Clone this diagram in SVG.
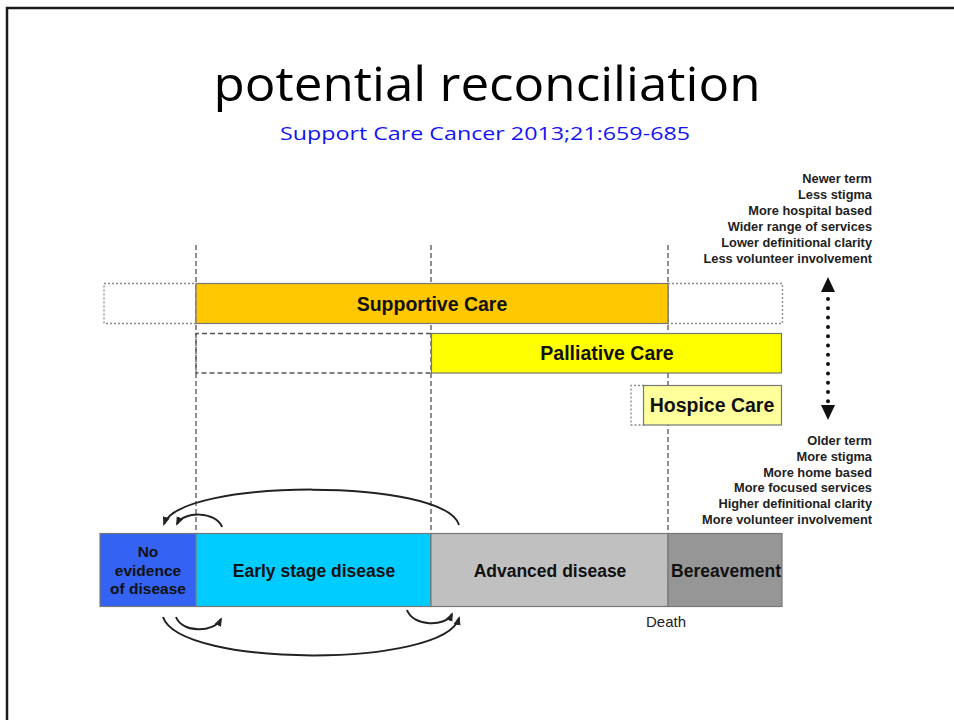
<svg xmlns="http://www.w3.org/2000/svg" width="954" height="720" viewBox="0 0 954 720">
  <defs>
    <style>
      .title { font-family: "Open Sans", "Liberation Sans", sans-serif; fill: #000; }
      .lbl { font-family: "Liberation Sans", Arial, sans-serif; font-weight: bold; fill: #111; text-anchor: middle; }
      .side { font-family: "Liberation Sans", Arial, sans-serif; font-weight: bold; font-size: 12.8px; fill: #222; text-anchor: end; }
      .guide { stroke: #555; stroke-width: 1.3; stroke-dasharray: 5 3; fill: none; }
      .ghost { stroke: #8a8a8a; stroke-width: 1.3; stroke-dasharray: 2 2; fill: none; }
      .bar { stroke: #777; stroke-width: 1.2; }
      .arc { stroke: #222; stroke-width: 2; fill: none; }
    </style>
    <marker id="tip" markerUnits="userSpaceOnUse" markerWidth="10" markerHeight="8" refX="7" refY="4" orient="auto">
      <path d="M0,0.5 L9,4 L0,7.5 z" fill="#222"/>
    </marker>
  </defs>

  <rect width="954" height="720" fill="#fff"/>
  <!-- slide frame -->
  <path d="M7,720 V8 H954" fill="none" stroke="#1a1a1a" stroke-width="2.5"/>

  <!-- heading -->
  <text class="title" x="487" y="101" font-size="48" text-anchor="middle" textLength="547" lengthAdjust="spacingAndGlyphs">potential reconciliation</text>
  <text x="485" y="140" font-family="'Open Sans', 'Liberation Sans', sans-serif" font-size="19" fill="#1414f0" text-anchor="middle" textLength="410" lengthAdjust="spacingAndGlyphs">Support Care Cancer 2013;21:659-685</text>

  <!-- phase guides -->
  <g id="guides">
    <line class="guide" x1="196" y1="245" x2="196" y2="533"/>
    <line class="guide" x1="431" y1="245" x2="431" y2="533"/>
    <line class="guide" x1="668" y1="245" x2="668" y2="533"/>
  </g>

  <!-- care bands -->
  <g id="supportive-care">
    <rect class="ghost" x="104" y="283.5" width="92" height="40"/>
    <rect class="ghost" x="668" y="283.5" width="114.5" height="40"/>
    <rect class="bar" x="196" y="283.5" width="472" height="40" fill="#ffc800"/>
    <text class="lbl" x="432" y="310.5" font-size="19.5">Supportive Care</text>
  </g>
  <g id="palliative-care">
    <path class="guide" d="M431,333.5 H196 V373 H431"/>
    <rect class="bar" x="431.5" y="333.5" width="350" height="39.5" fill="#ffff00"/>
    <text class="lbl" x="607" y="360" font-size="19.5">Palliative Care</text>
  </g>
  <g id="hospice-care">
    <path class="ghost" d="M644,385.5 H631 V425 H644"/>
    <rect class="bar" x="643.5" y="385.5" width="138" height="39.5" fill="#ffff9c"/>
    <text class="lbl" x="712" y="412" font-size="19.5">Hospice Care</text>
  </g>

  <!-- disease trajectory -->
  <g id="no-evidence">
    <rect class="bar" x="100" y="533.5" width="96" height="73" fill="#3463f4"/>
    <text class="lbl" x="148" y="557" font-size="15.5">No</text>
    <text class="lbl" x="148" y="575.5" font-size="15.5">evidence</text>
    <text class="lbl" x="148" y="594" font-size="15.5">of disease</text>
  </g>
  <g id="early-stage">
    <rect class="bar" x="196" y="533.5" width="235" height="73" fill="#00ccff"/>
    <text class="lbl" x="314" y="577" font-size="17.5">Early stage disease</text>
  </g>
  <g id="advanced">
    <rect class="bar" x="431" y="533.5" width="237" height="73" fill="#c0c0c0"/>
    <text class="lbl" x="550" y="577" font-size="17.5">Advanced disease</text>
  </g>
  <g id="bereavement">
    <rect class="bar" x="668" y="533.5" width="114" height="73" fill="#969696"/>
    <text class="lbl" x="726" y="577" font-size="17.5">Bereavement</text>
  </g>
  <text x="666" y="627" font-family="'Liberation Sans', Arial, sans-serif" font-size="15" fill="#222" text-anchor="middle">Death</text>

  <!-- transitions between states -->
  <g id="connectors">
    <path class="arc" d="M459,525 C445,478 180,478 164,524" marker-end="url(#tip)"/>
    <path class="arc" d="M222,527 C216,511 183,511 177,524" marker-end="url(#tip)"/>
    <path class="arc" d="M176,617 C182,633 214,633 221,619" marker-end="url(#tip)"/>
    <path class="arc" d="M407,610 C413,627 446,627 452,614" marker-end="url(#tip)"/>
    <path class="arc" d="M163,617 C180,668 445,668 459,618" marker-end="url(#tip)"/>
  </g>

  <!-- term scale -->
  <g id="term-scale">
    <text class="side" x="872" y="183">Newer term</text>
    <text class="side" x="872" y="199">Less stigma</text>
    <text class="side" x="872" y="215">More hospital based</text>
    <text class="side" x="872" y="231">Wider range of services</text>
    <text class="side" x="872" y="247">Lower definitional clarity</text>
    <text class="side" x="872" y="263">Less volunteer involvement</text>

    <path d="M828,277 L835,292 L821,292 z" fill="#111"/>
    <line x1="828" y1="299" x2="828" y2="402" stroke="#111" stroke-width="4" stroke-linecap="round" stroke-dasharray="0 9.3"/>
    <path d="M828,420 L835,405 L821,405 z" fill="#111"/>

    <text class="side" x="872" y="445">Older term</text>
    <text class="side" x="872" y="461">More stigma</text>
    <text class="side" x="872" y="476.5">More home based</text>
    <text class="side" x="872" y="492">More focused services</text>
    <text class="side" x="872" y="508">Higher definitional clarity</text>
    <text class="side" x="872" y="523.5">More volunteer involvement</text>
  </g>
</svg>
